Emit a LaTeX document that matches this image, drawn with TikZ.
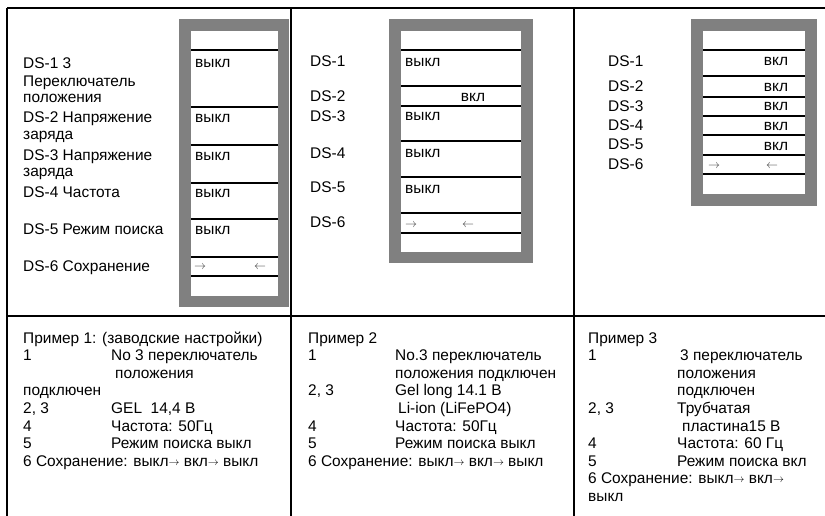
\documentclass[tikz,border=0pt]{standalone}
\usepackage{fontspec}
\setmainfont{Liberation Sans}
\definecolor{boxgray}{HTML}{808080}
\definecolor{arrgray}{HTML}{404040}
\newcommand\tarr{\raisebox{1.2pt}{\fontsize{10.5}{10}\selectfont$\rightarrow$}}
\begin{document}
\begin{tikzpicture}[x=1bp,y=-1bp,
  tx/.style={anchor=base west, inner sep=0pt, font=\fontsize{15.5}{18}\selectfont},
  txc/.style={anchor=base, inner sep=0pt, font=\fontsize{15.5}{18}\selectfont},
  rule/.style={line width=2bp, black},
  gframe/.style={fill=boxgray},
  gin/.style={fill=white},
  sw/.style={line width=2bp, black},
  arr/.style={anchor=center, inner sep=0pt, font=\fontsize{13}{14}\selectfont, text=arrgray}]
\useasboundingbox (0,0) rectangle (825,516);

% table grid
\coordinate (tl) at (7,8);
\coordinate (tr) at (825,8);
\coordinate (ml) at (7,316);
\coordinate (mr) at (825,316);
\coordinate (b1) at (7,516);
\coordinate (t2) at (291,8);
\coordinate (b2) at (291,516);
\coordinate (t3) at (574,8);
\coordinate (b3) at (574,516);
\draw[rule] (tl) -- (tr);
\draw[rule] (ml) -- (mr);
\draw[rule] (tl) -- (b1);
\draw[rule] (t2) -- (b2);
\draw[rule] (t3) -- (b3);

% ---------- column 1 switch ----------
\fill[gframe] (179,19) rectangle (289,307);
\fill[gin] (191,31) rectangle (278,296);
\foreach \yy in {50,107,145,183,219,257,276} \draw[sw] (191,\yy) -- (278,\yy);
\node[tx] (a1) at (23,69) {DS-1 3};
\node[tx] (a1b) at (23,87) {Переключатель};
\node[tx] (a1c) at (23,103) {положения};
\node[tx] (a2) at (23,123) {DS-2 Напряжение};
\node[tx] (a2b) at (23,140) {заряда};
\node[tx] (a3) at (23,161) {DS-3 Напряжение};
\node[tx] (a3b) at (23,177) {заряда};
\node[tx] (a4) at (23,198) {DS-4 Частота};
\node[tx] (a5) at (23,235) {DS-5 Режим поиска};
\node[tx] (a6) at (23,272) {DS-6 Сохранение};
\node[tx] (s11) at (195,68) {выкл};
\node[tx] (s12) at (195,123) {выкл};
\node[tx] (s13) at (195,161) {выкл};
\node[tx] (s14) at (195,198) {выкл};
\node[tx] (s15) at (195,235) {выкл};
\node[arr] (r1a) at (200,267) {$\rightarrow$};
\node[arr] (r1b) at (260,267) {$\leftarrow$};

% ---------- column 2 switch ----------
\fill[gframe] (389,19) rectangle (533,263);
\fill[gin] (401,31) rectangle (521,252);
\foreach \yy in {50,86,106,141,177,213,233} \draw[sw] (401,\yy) -- (521,\yy);
\node[tx] (b1l) at (310,67) {DS-1};
\node[tx] (b2l) at (310,102) {DS-2};
\node[tx] (b3l) at (310,122) {DS-3};
\node[tx] (b4l) at (310,159) {DS-4};
\node[tx] (b5l) at (310,193) {DS-5};
\node[tx] (b6l) at (310,228) {DS-6};
\node[tx] (s21) at (405,67) {выкл};
\node[txc] (s22) at (473,102) {вкл};
\node[tx] (s23) at (405,121) {выкл};
\node[tx] (s24) at (405,158) {выкл};
\node[tx] (s25) at (405,194) {выкл};
\node[arr] (r2a) at (411,225) {$\rightarrow$};
\node[arr] (r2b) at (468,225) {$\leftarrow$};

% ---------- column 3 switch ----------
\fill[gframe] (691,19) rectangle (817,206);
\fill[gin] (703,31) rectangle (805,194);
\foreach \yy in {50,76,97,116,135,155,174} \draw[sw] (703,\yy) -- (805,\yy);
\node[tx] (c1l) at (608,67) {DS-1};
\node[tx] (c2l) at (608,92) {DS-2};
\node[tx] (c3l) at (608,112) {DS-3};
\node[tx] (c4l) at (608,131) {DS-4};
\node[tx] (c5l) at (608,150) {DS-5};
\node[tx] (c6l) at (608,170) {DS-6};
\node[txc] (s31) at (776,66) {вкл};
\node[txc] (s32) at (776,92) {вкл};
\node[txc] (s33) at (776,111) {вкл};
\node[txc] (s34) at (776,131) {вкл};
\node[txc] (s35) at (776,151) {вкл};
\node[arr] (r3a) at (714,166) {$\rightarrow$};
\node[arr] (r3b) at (772,166) {$\leftarrow$};

% ---------- bottom row, column 1 ----------
\node[tx] (p10) at (23,343) {Пример 1: (заводские настройки)};
\node[tx] (p11a) at (23,360.6) {1};
\node[tx] (p11b) at (111,360.6) {No 3 переключатель};
\node[tx] (p12) at (115,378.2) {положения};
\node[tx] (p13) at (23,395.8) {подключен};
\node[tx] (p14a) at (23,413.4) {2, 3};
\node[tx] (p14b) at (111,413.4) {GEL\ \ 14,4 В};
\node[tx] (p15a) at (23,431) {4};
\node[tx] (p15b) at (111,431) {Частота: 50Гц};
\node[tx] (p16a) at (23,448.6) {5};
\node[tx] (p16b) at (111,448.6) {Режим поиска выкл};
\node[tx] (p17) at (23,466.2) {6 Сохранение: выкл\tarr{} вкл\tarr{} выкл};

% ---------- bottom row, column 2 ----------
\node[tx] (q10) at (308,343) {Пример 2};
\node[tx] (q11a) at (308,360.6) {1};
\node[tx] (q11b) at (395,360.6) {No.3 переключатель};
\node[tx] (q12) at (395,378.2) {положения подключен};
\node[tx] (q13a) at (308,395.8) {2, 3};
\node[tx] (q13b) at (395,395.8) {Gel long 14.1 В};
\node[tx] (q14) at (398,413.4) {Li-ion (LiFePO4)};
\node[tx] (q15a) at (308,431) {4};
\node[tx] (q15b) at (395,431) {Частота: 50Гц};
\node[tx] (q16a) at (308,448.6) {5};
\node[tx] (q16b) at (395,448.6) {Режим поиска выкл};
\node[tx] (q17) at (308,466.2) {6 Сохранение: выкл\tarr{} вкл\tarr{} выкл};

% ---------- bottom row, column 3 ----------
\node[tx] (u10) at (588,343) {Пример 3};
\node[tx] (u11a) at (588,360.6) {1};
\node[tx] (u11b) at (680,360.6) {3 переключатель};
\node[tx] (u12) at (677,378.2) {положения};
\node[tx] (u13) at (677,395.8) {подключен};
\node[tx] (u14a) at (588,413.4) {2, 3};
\node[tx] (u14b) at (677,413.4) {Трубчатая};
\node[tx] (u15) at (682,431) {пластина15 В};
\node[tx] (u16a) at (588,448.6) {4};
\node[tx] (u16b) at (677,448.6) {Частота: 60 Гц};
\node[tx] (u17a) at (588,466.2) {5};
\node[tx] (u17b) at (677,466.2) {Режим поиска вкл};
\node[tx] (u18) at (588,483.8) {6 Сохранение: выкл\tarr{} вкл\tarr{}};
\node[tx] (u19) at (588,501.4) {выкл};
\end{tikzpicture}
\end{document}
